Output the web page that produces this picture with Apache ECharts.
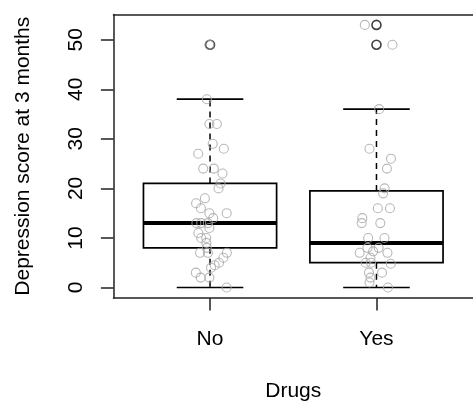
<!DOCTYPE html>
<html>
<head>
<meta charset="utf-8">
<script src="https://cdn.jsdelivr.net/npm/echarts@6/dist/echarts.min.js"></script>
<style>
  html, body { margin: 0; padding: 0; background: #fff; }
  #chart { width: 473px; height: 407px; }
</style>
</head>
<body>
<div id="chart"></div>
<script>
// Depression score at 3 months, by drug use
const groups = ['No', 'Yes'];
const groupPos = [1, 2];

// five-number summaries per group: [lower whisker, Q1, median, Q3, upper whisker]
const statsNo = [0, 8, 13, 21, 38];
const statsYes = [0, 5, 9, 19.5, 36];

// values beyond the whiskers
const outliersNo = [49];
const outliersYes = [53, 49];

// individual observations, jittered horizontally: [position, score]
const pointsNo = [
  [0.996, 49], [0.981, 38], [0.996, 33], [1.041, 33], [1.016, 29], [1.083, 28],
  [0.929, 27], [0.959, 24], [1.023, 24], [1.075, 23], [1.063, 21], [1.051, 20],
  [0.916, 17], [0.969, 18], [0.945, 16], [0.996, 15], [1.100, 15], [1.019, 14],
  [0.918, 13], [0.947, 13], [0.987, 13], [0.996, 12], [0.930, 11], [0.947, 10],
  [0.977, 10], [0.978, 9], [0.981, 8], [0.940, 7], [0.987, 7], [1.101, 7],
  [1.080, 6], [1.054, 5], [1.028, 4.5], [1.006, 4], [0.915, 3], [0.944, 2],
  [0.996, 2], [1.100, 0]
];
const pointsYes = [
  [1.930, 53], [2.096, 49], [2.016, 36], [1.958, 28], [2.087, 26], [2.063, 24],
  [2.049, 20], [2.040, 19], [2.008, 16], [2.081, 16], [1.915, 14], [1.911, 13],
  [2.023, 13], [1.950, 10], [2.048, 10], [1.946, 8], [2.013, 8], [1.980, 7.3],
  [1.899, 7], [2.066, 7], [1.964, 6], [1.935, 5], [1.968, 5], [2.086, 4.8],
  [1.955, 3], [2.033, 3], [1.964, 2], [1.958, 1], [2.069, 0]
];

const yTicks = [0, 10, 20, 30, 40, 50];

const boxData = [
  [groupPos[0]].concat(statsNo),
  [groupPos[1]].concat(statsYes)
];
const outlierData = outliersNo.map(v => [groupPos[0], v])
  .concat(outliersYes.map(v => [groupPos[1], v]));
const pointData = pointsNo.concat(pointsYes);

const FONT = 'Liberation Sans, Arial, sans-serif';
const FONT_SIZE = 21;
const INK = '#000';

function renderBox(params, api) {
  const x = api.value(0);
  const lo = api.value(1), q1 = api.value(2), med = api.value(3);
  const q3 = api.value(4), hi = api.value(5);
  const halfBox = 0.4, halfCap = 0.2;
  const p = (xv, yv) => api.coord([xv, yv]);
  const seg = (a, b, style) => ({
    type: 'line',
    shape: { x1: a[0], y1: a[1], x2: b[0], y2: b[1] },
    style: style
  });
  const solid = { stroke: INK, lineWidth: 1.7 };
  const dashed = { stroke: INK, lineWidth: 1.5, lineDash: [6, 5] };
  const tl = p(x - halfBox, q3), br = p(x + halfBox, q1);
  return {
    type: 'group',
    children: [
      seg(p(x, q3), p(x, hi), dashed),
      seg(p(x, q1), p(x, lo), dashed),
      seg(p(x - halfCap, hi), p(x + halfCap, hi), solid),
      seg(p(x - halfCap, lo), p(x + halfCap, lo), solid),
      {
        type: 'rect',
        shape: { x: tl[0], y: tl[1], width: br[0] - tl[0], height: br[1] - tl[1] },
        style: { fill: 'none', stroke: INK, lineWidth: 1.7 }
      },
      seg(p(x - halfBox, med), p(x + halfBox, med), { stroke: INK, lineWidth: 4 })
    ]
  };
}

const chart = echarts.init(document.getElementById('chart'), null, { renderer: 'canvas' });

const frameLine = { show: true, onZero: false, lineStyle: { color: '#222', width: 1.5 } };
const textStyle = { color: INK, fontFamily: FONT, fontSize: FONT_SIZE };

chart.setOption({
  animation: false,
  backgroundColor: '#fff',
  grid: { left: 113.5, top: 14.4, width: 367.5, height: 286.2, containLabel: false },
  xAxis: [
    {
      type: 'value', position: 'bottom', min: 0.42, max: 2.58,
      splitLine: { show: false },
      axisLine: frameLine,
      axisTick: { show: true, length: 12.6, customValues: groupPos, lineStyle: { color: '#222', width: 1.5 } },
      axisLabel: Object.assign({
        customValues: groupPos, margin: 31,
        formatter: v => groups[groupPos.indexOf(v)] || ''
      }, textStyle),
      name: 'Drugs', nameLocation: 'middle', nameGap: 83,
      nameTextStyle: textStyle
    },
    {
      type: 'value', position: 'top', min: 0.42, max: 2.58,
      splitLine: { show: false }, axisLine: frameLine,
      axisTick: { show: false }, axisLabel: { show: false }
    }
  ],
  yAxis: {
    type: 'value', min: -2.12, max: 55.12,
    splitLine: { show: false },
    axisLine: frameLine,
    axisTick: { show: true, length: 12.6, customValues: yTicks, lineStyle: { color: '#222', width: 1.5 } },
    axisLabel: Object.assign({ customValues: yTicks, rotate: 90, margin: 27 }, textStyle),
    name: 'Depression score at 3 months', nameLocation: 'middle', nameRotate: 90, nameGap: 80,
    nameTextStyle: textStyle
  },
  series: [
    {
      type: 'custom', name: 'box', xAxisIndex: 0,
      data: boxData, encode: { x: 0, y: [1, 2, 3, 4, 5] },
      renderItem: renderBox, z: 2
    },
    {
      type: 'scatter', name: 'outliers', xAxisIndex: 0,
      data: outlierData, symbol: 'circle', symbolSize: 9,
      itemStyle: { color: 'transparent', borderColor: '#111', borderWidth: 1.6 },
      z: 3
    },
    {
      type: 'scatter', name: 'observations', xAxisIndex: 0,
      data: pointData, symbol: 'circle', symbolSize: 9,
      itemStyle: { color: 'transparent', borderColor: '#a6a6a6', borderWidth: 1.1 },
      z: 4
    }
  ]
});
</script>
</body>
</html>
